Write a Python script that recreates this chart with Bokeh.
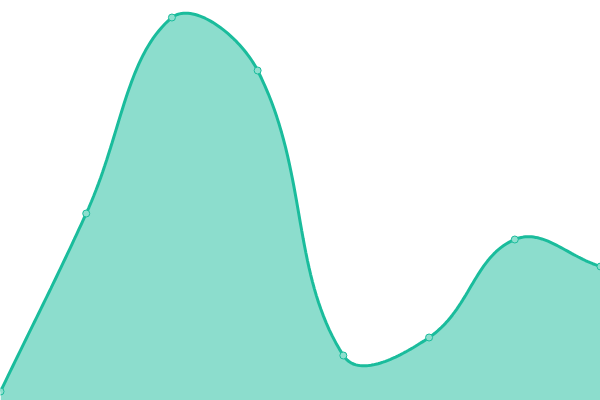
import numpy as np
from bokeh.plotting import figure
from bokeh.models import Range1d
from bokeh.embed import file_html
from bokeh.resources import INLINE

# Data
labels = ["A", "B", "C", "D", "E", "F", "G", "H"]
values = [9, 187, 383, 330, 45, 63, 161, 134]

W, H = 600, 400
X_MAX = len(values) - 1
Y_MAX = 400

p = figure(width=W, height=H, output_backend="svg", toolbar_location=None,
           x_range=Range1d(0, X_MAX), y_range=Range1d(0, Y_MAX),
           min_border=0, outline_line_color=None, background_fill_color="white",
           border_fill_color="white")
p.axis.visible = False
p.grid.visible = False

# Smooth curve (Chart.js-style spline, tension 0.4) computed in screen space
sx = W / X_MAX
sy = H / Y_MAX
pts = np.array([[i * sx, v * sy] for i, v in enumerate(values)])
t = 0.4
n = len(pts)
cp_prev = pts.copy()
cp_next = pts.copy()
for i in range(n):
    prv = pts[i - 1] if i > 0 else pts[i]
    nxt = pts[i + 1] if i < n - 1 else pts[i]
    d01 = np.hypot(*(pts[i] - prv))
    d12 = np.hypot(*(nxt - pts[i]))
    tot = d01 + d12
    s01 = d01 / tot if tot else 0
    s12 = d12 / tot if tot else 0
    cp_prev[i] = pts[i] - t * s01 * (nxt - prv)
    cp_next[i] = pts[i] + t * s12 * (nxt - prv)
cp_prev[:, 1] = np.clip(cp_prev[:, 1], 0, H)
cp_next[:, 1] = np.clip(cp_next[:, 1], 0, H)

cx, cy = [], []
u = np.linspace(0, 1, 40)
for i in range(n - 1):
    P0, C1, C2, P3 = pts[i], cp_next[i], cp_prev[i + 1], pts[i + 1]
    b = ((1 - u) ** 3)[:, None] * P0 + (3 * (1 - u) ** 2 * u)[:, None] * C1 \
        + (3 * (1 - u) * u ** 2)[:, None] * C2 + (u ** 3)[:, None] * P3
    if i > 0:
        b = b[1:]
    cx.extend(b[:, 0] / sx)
    cy.extend(b[:, 1] / sy)

color = "#1abc9c"
p.varea(x=cx, y1=0, y2=cy, fill_color=color, fill_alpha=0.5)
p.line(cx, cy, line_color=color, line_width=3)
p.scatter(list(range(n)), values, size=7, fill_color="#8ddfce",
          line_color=color, line_width=1)

open("out.html", "w").write(file_html(p, INLINE))
